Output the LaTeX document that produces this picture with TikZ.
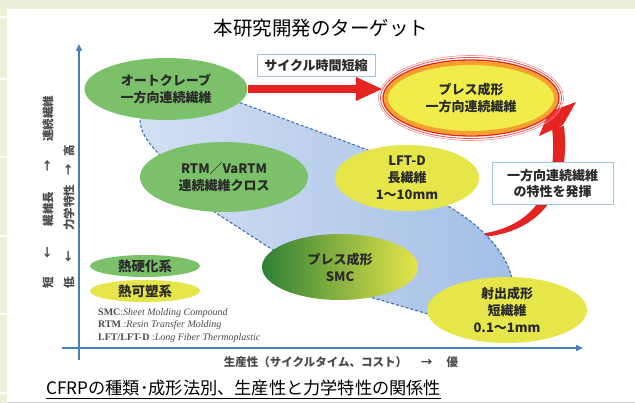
\documentclass[tikz,border=0pt]{standalone}
\usepackage{fontspec}
\setmainfont{Liberation Serif}
\newfontfamily\jp{Noto Sans CJK JP}
\usetikzlibrary{shapes.geometric,arrows.meta}
\definecolor{pagegreen}{HTML}{EBF1D9}
\definecolor{axisblue}{HTML}{4A7DBE}
\definecolor{ellgreen}{HTML}{7BC16A}
\definecolor{ellyellow}{HTML}{E6E64A}
\definecolor{darkgreen}{HTML}{2E7F36}
\definecolor{midgreen}{HTML}{6FAF45}
\definecolor{arrowred}{HTML}{E52421}
\definecolor{boxblue}{HTML}{9CC6DE}
\definecolor{regionlight}{HTML}{D3E0F3}
\definecolor{regiondark}{HTML}{A2BFE6}
\definecolor{dashblue}{HTML}{3D70B8}
\definecolor{txt}{HTML}{2A2A2A}
\definecolor{ringorange}{HTML}{F5A030}
\definecolor{pressyellow}{HTML}{F0EC4A}
\definecolor{labgray}{HTML}{4A4A4A}
\tikzset{
  ell/.style={ellipse, inner sep=0pt, align=center, text=txt,
    font=\jp\bfseries\fontsize{13}{17}\selectfont},
  infobox/.style={draw=boxblue, line width=1pt, fill=white, inner sep=0pt,
    align=center, text=txt, font=\jp\bfseries\fontsize{13}{16}\selectfont},
  axisline/.style={axisblue, line width=1.8pt, -{Triangle[length=7pt,width=6pt]}},
  ylab/.style={rotate=90, text=labgray, font=\jp\bfseries\fontsize{11.5}{12}\selectfont, inner sep=0pt},
  abbr/.style={anchor=west, text=labgray, inner sep=0pt, font=\fontsize{10}{12}\selectfont},
}
\begin{document}
\begin{tikzpicture}[x=1pt,y=-1pt]
\useasboundingbox (0,0) rectangle (635,403);
% page background
\fill[pagegreen] (0,0) rectangle (635,403);
\fill[white] (7,9) rectangle (635,403);
\foreach \yy in {17,79,157,236,314,393} \draw[white, line width=1.5pt] (0,\yy) -- (7,\yy);
\draw[black!20, line width=0.6pt] (7,402) -- (635,402);

% centres
\coordinate (cAuto) at (166,89);
\coordinate (cRtm) at (224,177);
\coordinate (cLft) at (407,178);
\coordinate (cSmc) at (340,267);
\coordinate (cInj) at (507,310);

% curved red arrow (tapered)
\fill[arrowred] (476,237.5) .. controls (535,235) and (572,198) .. (564,126)
  -- (552,128) .. controls (560,196) and (528,229) .. (476,234.5) -- cycle;
\fill[arrowred] (549,112) -- (576,102) -- (563,125) -- (539,136) -- cycle;

% blue region
\draw[dashblue, line width=1.1pt, dash pattern=on 3pt off 2pt,
      left color=regionlight, right color=regiondark]
  (cAuto) -- (241,103) -- (368,150) -- (cLft) -- (448,206)
  .. controls (480,225) and (505,250) .. (512,278) -- (cInj) -- (428,314)
  -- (370,297) -- (cSmc) -- (273,250) -- (213,211) -- (cRtm) -- (160,155)
  .. controls (145,140) and (140,130) .. (140,118) -- cycle;

% ellipses
\node[ell, fill=ellgreen, minimum width=163pt, minimum height=62pt] (auto) at (cAuto) {オートクレーブ\\一方向連続繊維};
\node[ell, fill=ellgreen, minimum width=168pt, minimum height=70pt] (rtm) at (cRtm) {RTM／VaRTM\\連続繊維クロス};
\node[ell, fill=ellyellow, minimum width=144pt, minimum height=66pt] (lft) at (cLft) {LFT-D\\長繊維\\1～10mm};
\node[ell, left color=darkgreen, middle color=midgreen, right color=ellyellow, minimum width=156pt, minimum height=66pt] (smc) at (cSmc) {プレス成形\\SMC};
\node[ell, fill=ellyellow, minimum width=160pt, minimum height=66pt] (inj) at (cInj) {射出成形\\短繊維\\0.1～1mm};

% press moulding target ellipse
\coordinate (cPress) at (471,98);
\fill[pressyellow] (cPress) ellipse [x radius=88pt, y radius=38pt];
\draw[ringorange, line width=4pt] (cPress) ellipse [x radius=85pt, y radius=35pt];
\draw[arrowred, line width=1.3pt] (cPress) ellipse [x radius=88pt, y radius=38pt];
\draw[arrowred!80, line width=0.8pt] (cPress) ellipse [x radius=90.5pt, y radius=40.5pt];
\draw[arrowred!50, line width=0.6pt] (cPress) ellipse [x radius=92.5pt, y radius=42.5pt];
\node[ell, minimum width=176pt, minimum height=76pt] (press) at (cPress) {プレス成形\\一方向連続繊維};

% straight red arrow
\draw[arrowred, line width=8pt, -{Triangle[length=27pt,width=22pt]}] (auto.east) -- (auto.east -| press.west);

% boxes
\node[infobox, minimum width=118pt, minimum height=22pt] (cycle) at (316,66) {サイクル時間短縮};
\node[infobox, minimum width=121pt, minimum height=42pt] (prop) at (552.5,184) {一方向連続繊維\\の特性を発揮};

% legend
\node[ell, fill=ellgreen, minimum width=110pt, minimum height=22pt, font=\jp\bfseries\fontsize{13.5}{14}\selectfont] (thermoset) at (145,266) {熱硬化系};
\node[ell, fill=ellyellow, minimum width=110pt, minimum height=22pt, font=\jp\bfseries\fontsize{13.5}{14}\selectfont] (thermoplastic) at (145,291) {熱可塑系};
\node[abbr] (ab1) at (98,313) {\textbf{SMC}:\textit{Sheet Molding Compound}};
\node[abbr] (ab2) at (98,325.5) {\textbf{RTM} :\textit{Resin Transfer Molding}};
\node[abbr] (ab3) at (98,338) {\textbf{LFT/LFT-D} :\textit{Long Fiber Thermoplastic}};

% axes
\coordinate (yBot) at (79,360);
\coordinate (yTop) at (79,44);
\coordinate (xLeft) at (62,348);
\coordinate (xRight) at (583,348);
\draw[axisline] (yBot) -- (yTop);
\draw[axisline] (xLeft) -- (xRight);

% y-axis labels
\node[ylab] (l1a) at (48,119) {連続繊維};
\node[ylab] (l1b) at (48,166) {→};
\node[ylab] (l1c) at (48,209) {繊維長};
\node[ylab] (l1d) at (48,253) {←};
\node[ylab] (l1e) at (48,283) {短};
\node[ylab] (l2a) at (69,151) {高};
\node[ylab] (l2b) at (69,170) {→};
\node[ylab] (l2c) at (69,208) {力学特性};
\node[ylab] (l2d) at (69,257) {←};
\node[ylab] (l2e) at (69,283) {低};

% x-axis label
\node[text=labgray, font=\jp\bfseries\fontsize{11.5}{12}\selectfont, inner sep=0pt] (xlab) at (341,362) {生産性（サイクルタイム、コスト）\hspace{14pt}→\hspace{14pt}優};

% title and caption
\node[font=\jp\fontsize{19.5}{22}\selectfont, inner sep=0pt] (title) at (321,28) {本研究開発のターゲット};
\node[anchor=west, font=\jp\fontsize{17.2}{20}\selectfont, inner sep=0pt] (cap) at (46,388) {CFRPの種類･成形法別、生産性と力学特性の関係性};
\draw[line width=0.8pt] ([yshift=-4pt]cap.base west) -- ([yshift=-4pt]cap.base east);
\end{tikzpicture}
\end{document}
